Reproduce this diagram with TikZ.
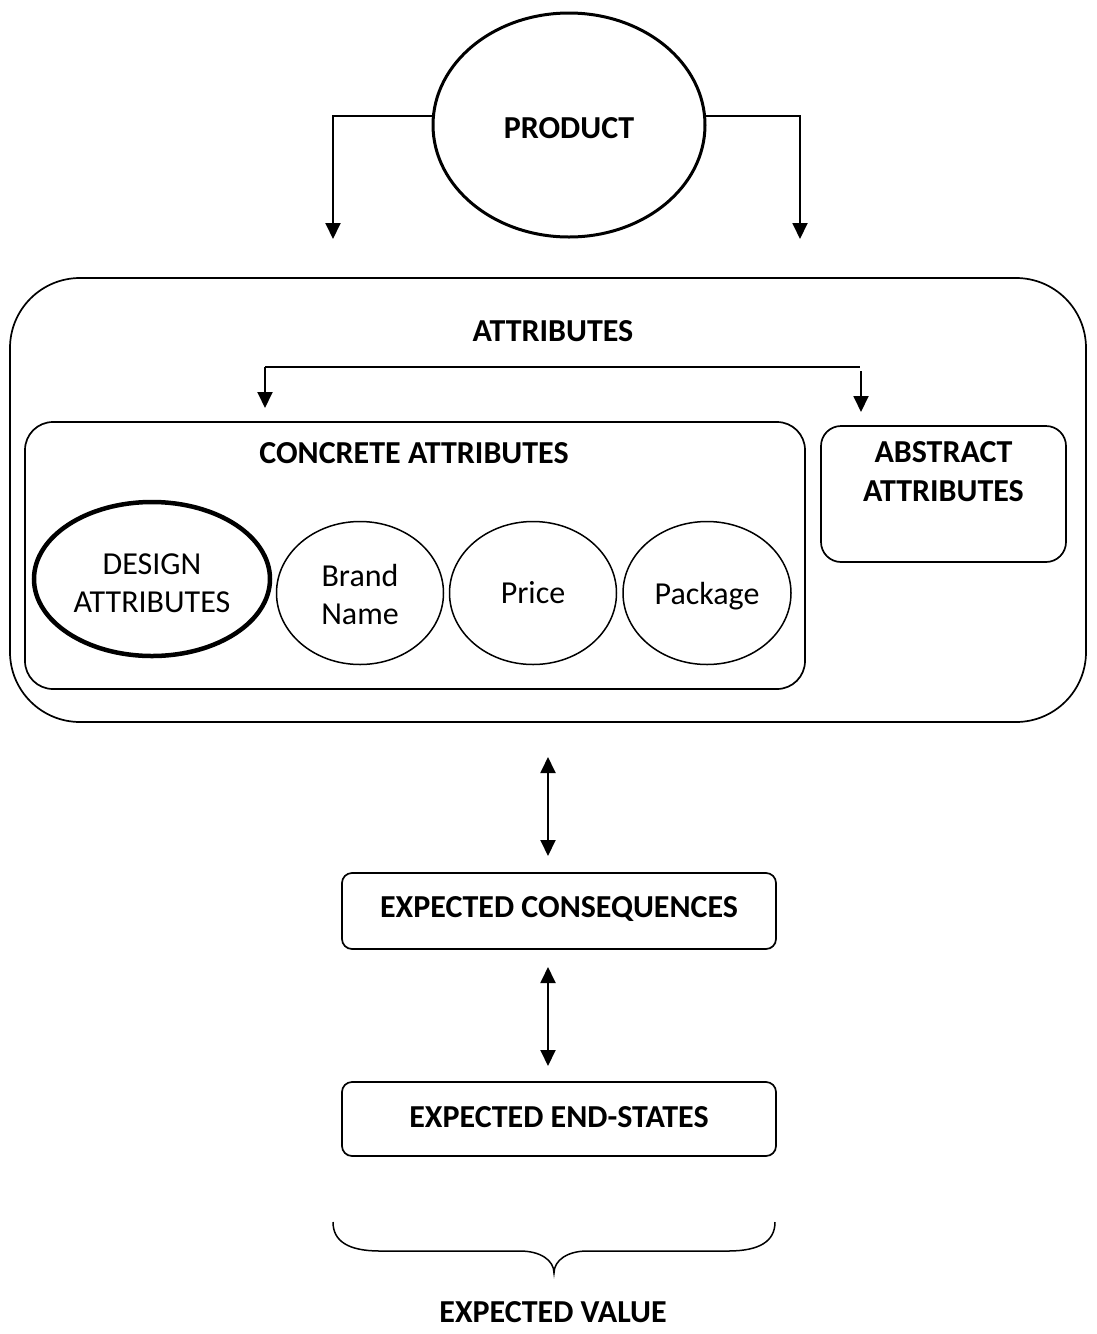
\documentclass[tikz,border=0pt]{standalone}
\usepackage{fontspec}
\setmainfont{Carlito}
\usetikzlibrary{arrows.meta,shapes.geometric,calc}
\begin{document}
\begin{tikzpicture}[x=1pt,y=-1pt,
  arr/.style={line width=1.9pt,-{Triangle[length=16pt,width=15pt]}},
  darr/.style={line width=1.9pt,{Triangle[length=16pt,width=15pt]}-{Triangle[length=16pt,width=15pt]}},
  rbox/.style={draw,line width=1.7pt,rounded corners=#1,inner sep=0pt},
  oval/.style={draw,ellipse,line width=1.5pt,inner sep=0pt},
  otxt/.style={inner sep=0pt,align=center,font=\fontsize{32}{38}\selectfont},
  txt/.style={inner sep=0pt,align=center,font=\fontsize{32}{39}\selectfont\bfseries},
]
\useasboundingbox (0,0) rectangle (1096,1334);

% product
\node[draw,ellipse,line width=3pt,minimum width=272pt,minimum height=224pt,inner sep=0pt] (prod) at (569,125) {};
\node[txt] (prodtxt) at (569,128) {PRODUCT};
\coordinate (pl) at (333,116);
\coordinate (pr) at (800,116);
\coordinate (plend) at (333,239);
\coordinate (prend) at (800,239);
\draw[arr] ($(prod.west)+(2,-9)$) -- (pl) -- (plend);
\draw[arr] ($(prod.east)+(-2,-9)$) -- (pr) -- (prend);

% attributes container
\node[rbox=70pt,minimum width=1076pt,minimum height=444pt] (attrs) at (548,500) {};
\node[txt] (attrtxt) at (553,331) {ATTRIBUTES};

% split arrows
\coordinate (sl) at (265,367);
\coordinate (sr) at (860,367);
\coordinate (slend) at (265,408);
\coordinate (srstart) at (861,371);
\coordinate (srend) at (861,412);
\draw[line width=1.9pt] (sl) -- (sr);
\draw[arr] (sl) -- (slend);
\draw[arr] (srstart) -- (srend);

% concrete attributes
\node[rbox=28pt,minimum width=780pt,minimum height=267pt] (conc) at (415,555.5) {};
\node[txt] (conctxt) at (414,453) {CONCRETE ATTRIBUTES};

% abstract attributes
\node[rbox=20pt,minimum width=245pt,minimum height=136pt] (abst) at (943.5,494) {};
\node[txt] (absttxt) at (943.5,472) {ABSTRACT\\ATTRIBUTES};

% concrete attribute ovals
\node[oval,line width=4.5pt,minimum width=236pt,minimum height=154pt] (design) at (152,579) {};
\node[otxt] (designtxt) at (152,583) {DESIGN\\ATTRIBUTES};
\node[oval,minimum width=167pt,minimum height=143pt] (brand) at (360,593) {};
\node[otxt] (brandtxt) at (360,594.5) {Brand\\Name};
\node[oval,minimum width=167pt,minimum height=143pt] (price) at (533,593) {};
\node[otxt] (pricetxt) at (533,593) {Price};
\node[oval,minimum width=168pt,minimum height=143pt] (pack) at (707,593) {};
\node[otxt] (packtxt) at (707,596) {Package};

% consequences and end-states
\node[rbox=10pt,minimum width=434pt,minimum height=76pt] (cons) at (559,911) {};
\node[txt] (constxt) at (559,909) {EXPECTED CONSEQUENCES};
\node[rbox=10pt,minimum width=434pt,minimum height=74pt] (ends) at (559,1119) {};
\node[txt] (endstxt) at (559,1117) {EXPECTED END-STATES};

\coordinate (a1) at (548,757);
\coordinate (b1) at (548,856);
\coordinate (a2) at (548,967);
\coordinate (b2) at (548,1066);
\draw[darr] (a1) -- (b1);
\draw[darr] (a2) -- (b2);

% brace over the expected value
\coordinate (bl) at (333,1222);
\coordinate (br) at (775,1222);
\coordinate (bt) at (554,1273);
\draw[line width=1.5pt] (bl) .. controls (333,1241) and (348,1251) .. (380,1251)
  -- (520,1251) .. controls (540,1251) and (554,1260) .. (bt)
  .. controls (554,1260) and (568,1251) .. (587,1251)
  -- (728,1251) .. controls (760,1251) and (775,1241) .. (br);
\node[txt] (valtxt) at (553,1312) {EXPECTED VALUE};
\end{tikzpicture}
\end{document}
